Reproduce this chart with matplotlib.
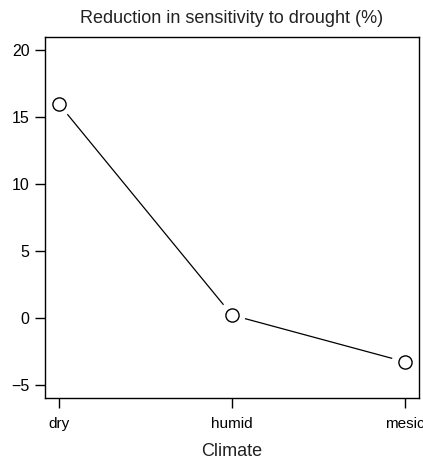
import numpy as np
import matplotlib
matplotlib.use("Agg")
import matplotlib.pyplot as plt

climates = ["dry", "humid", "mesic"]
reduction = [16.0, 0.2, -3.3]
y_ticks = [-5, 0, 5, 10, 15, 20]

plt.rcParams["font.family"] = ["Liberation Sans", "DejaVu Sans"]
text_color = "#222222"

fig = plt.figure(figsize=(4.23, 4.59), dpi=100)
ax = fig.add_axes([45 / 423, 61 / 459, 374 / 423, 361 / 459])

x = np.arange(1, len(climates) + 1)
ax.set_xlim(0.92, 3.08)
ax.set_ylim(-6, 21)

# line segments with gaps around each point (base-R type="b" look)
gap_px = 14
disp = ax.transData.transform(np.column_stack([x, reduction]))
inv = ax.transData.inverted()
for i in range(len(x) - 1):
    p0, p1 = disp[i], disp[i + 1]
    d = p1 - p0
    u = d / np.hypot(*d)
    a = inv.transform(p0 + u * gap_px)
    b = inv.transform(p1 - u * gap_px)
    ax.plot([a[0], b[0]], [a[1], b[1]], color="black", lw=0.9)

ax.plot(x, reduction, linestyle="none", marker="o", markersize=9.5,
        markerfacecolor="white", markeredgecolor="black", markeredgewidth=1.0)

ax.set_xticks(x)
ax.set_xticklabels(climates, fontsize=11, color=text_color)
ax.set_yticks(y_ticks)
ax.set_yticklabels([f"{v}".replace("-", "\u2212") for v in y_ticks],
                   fontsize=11.5, color=text_color)
ax.tick_params(direction="out", length=7, width=1, colors="black")
ax.tick_params(axis="y", pad=4)
ax.tick_params(axis="x", pad=7)

for s in ax.spines.values():
    s.set_linewidth(1.0)

ax.set_xlabel("Climate", fontsize=13, labelpad=8, color=text_color)
ax.set_title("Reduction in sensitivity to drought (%)", fontsize=13, pad=10,
             color=text_color)

fig.savefig("out.png", dpi=100)
